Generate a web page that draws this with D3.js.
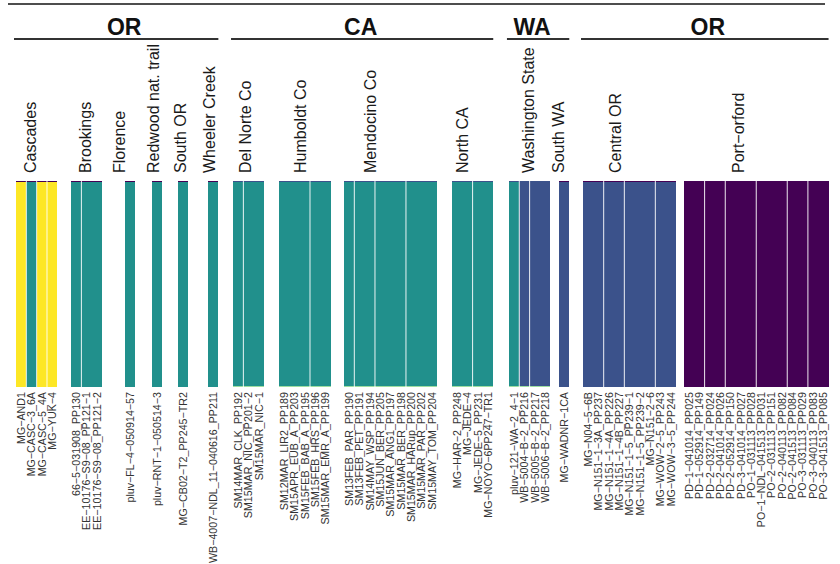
<!DOCTYPE html>
<html><head><meta charset="utf-8">
<script src="https://cdn.jsdelivr.net/npm/d3@7/dist/d3.min.js"></script>
<style>body{margin:0;background:#fff}svg{display:block}</style>
</head><body><svg id="c" width="840" height="564"></svg>
<script>
// ---------------- DATA ----------------
const samples = [
 "MG−AND1","MG−CASC−3_6A","MG−CASC−5_4A","MG−YUK−4",
 "66−5−031908_PP130","EE−10176−S9−08_PP121−1","EE−10176−S9−08_PP121−2",
 "pluv−FL−4−050914−57",
 "pluv−RNT−1−050514−3",
 "MG−CB02−T2_PP245−TR2",
 "WB−4007−NDL_11−040616_PP211",
 "SM14MAR_CLK_PP192","SM15MAR_NIC_PP201−2","SM15MAR_NIC−1",
 "SM12MAR_LIR2_PP189","SM15APR_EUB_A_PP203","SM15FEB_BAB_A_PP195","SM15FEB_HRS_PP196","SM15MAR_EMR_A_PP199",
 "SM13FEB_PAR_PP190","SM13FEB_PET_PP191","SM14MAY_WSP_PP194","SM15JUN_BER_PP205","SM15MAR_ANG1_PP197","SM15MAR_BER_PP198","SM15MAR_HARup_PP200","SM15MAR_PAR_PP202","SM15MAY_TOM_PP204",
 "MG−HAR−2_PP248","MG−JEDE−4","MG−JEDE−5_PP231","MG−NOYO−6PP247−TR1",
 "pluv−121−WA−2_4−1","WB−5004−B−2_PP216","WB−5005−B−2_PP217","WB−5006−B−2_PP218",
 "MG−WADNR−1CA",
 "MG−N04−5−6B","MG−N151−1−3A_PP237","MG−N151−1−4A_PP226","MG−N151−1−4B_PP227","MG−N151−1−5_PP239−1","MG−N151−1−5_PP239−2","MG−N151−2−6","MG−WOW−2−5_PP243","MG−WOW−3−5_PP244",
 "PD−1−041014_PP025","PD−1−052914_PP149","PD−2−032714_PP024","PD−2−041014_PP026","PD−2−052914_PP150","PD−3−041014_PP027","PO−1−031113_PP028","PO−1−NDL−041513_PP031","PO−2−031113_PP151","PO−2−040113_PP082","PO−2−041513_PP084","PO−3−031113_PP029","PO−3−040113_PP083","PO−3−041513_PP085"
];
const groups = ["Cascades","Brookings","Florence","Redwood nat. trail","South OR","Wheeler Creek",
 "Del Norte Co","Humboldt Co","Mendocino Co","North CA",
 "Washington State","South WA",
 "Central OR","Port−orford"];
const groupSizes = [4,3,1,1,1,1, 3,5,9,4, 4,1, 9,14];
const states = ["OR","CA","WA","OR"];
const statesGroupCount = [6,4,2,2];
const clusters = ["K1","K2","K3","K4","K5"];
// membership (ancestry proportion) of each sample in each cluster
const k1 = [0.005,0.005,0.005,0.005, 0.004,0.004,0.004, 0.004, 0.004, 0.004, 0.004,
 0,0,0, 0,0,0,0,0, 0,0,0,0,0,0,0,0,0, 0,0,0,0, 0,0,0,0, 0.003,
 0.003,0.003,0.003,0.003,0.003,0.003,0.003,0.003,0.003,
 1,1,1,1,1,1,1,1,1,1,1,1,1,1];
const k2 = [0,0,0,0, 0,0,0, 0, 0, 0, 0,
 0.005,0.005,0.005, 0.005,0.005,0.005,0.005,0.005, 0.005,0.005,0.005,0.005,0.005,0.005,0.005,0.005,0.005, 0.005,0.005,0.005,0.005,
 0.005,0.997,0.997,0.997, 0.997,
 0.997,0.997,0.997,0.997,0.997,0.997,0.997,0.997,0.997,
 0,0,0,0,0,0,0,0,0,0,0,0,0,0];
const k3 = [0,0.995,0,0, 0.996,0.996,0.996, 0.996, 0.996, 0.996, 0.996,
 0.992,0.992,0.992, 0.992,0.992,0.992,0.992,0.992, 0.992,0.992,0.992,0.992,0.992,0.992,0.992,0.992,0.992, 0.992,0.992,0.992,0.992,
 0.992,0,0,0, 0,
 0,0,0,0,0,0,0,0,0,
 0,0,0,0,0,0,0,0,0,0,0,0,0,0];
const k4 = [0,0,0,0, 0,0,0, 0, 0, 0, 0,
 0.003,0.003,0.003, 0.003,0.003,0.003,0.003,0.003, 0.003,0.003,0.003,0.003,0.003,0.003,0.003,0.003,0.003, 0.003,0.003,0.003,0.003,
 0.003,0.003,0.003,0.003, 0,
 0,0,0,0,0,0,0,0,0,
 0,0,0,0,0,0,0,0,0,0,0,0,0,0];
const k5 = [0.995,0,0.995,0.995, 0,0,0, 0, 0, 0, 0,
 0,0,0, 0,0,0,0,0, 0,0,0,0,0,0,0,0,0, 0,0,0,0,
 0,0,0,0, 0,
 0,0,0,0,0,0,0,0,0,
 0,0,0,0,0,0,0,0,0,0,0,0,0,0];

// ---------------- LAYOUT / STYLE ----------------
const W = 840, H = 564;
const layout = {
  x0: 16, sampleW: 10.33,
  gapUnits: [1.33,2.23,1.61,1.52,1.90,1.42,1.45,1.29,1.45,1.52,0.84,1.33,0.77],
  labelNudge: [-6,-1.5,-11,-4,-3,-4,-3.5,-4.5,-20,-10,-1.5,-5.5,-14.5,-18.5],
  stateNudge: [8,-1.5,-6,3],
  // rendering seams (thin white gaps) visible after these sample indices in the reference
  seamAfter: [0,1,2,4,11,16,19,21,24,29,32,33,38,40,43,47,49,52,55,57],
  barTop: 181, barBottom: 387,
  groupLabelY: 173, sampleLabelY: 392, stateY: 35, ruleY: 39
};
const colors = {K1:"#440154",K2:"#3B528B",K3:"#21908C",K4:"#5DC863",K5:"#FDE725"};
const font = "'Liberation Sans', Arial, Helvetica, sans-serif";

// ---------------- BUILD ----------------
const rows = samples.map((s,i)=>({name:s,K1:k1[i],K2:k2[i],K3:k3[i],K4:k4[i],K5:k5[i]}));
let slot = 0, idx = 0;
const groupInfo = [];
groupSizes.forEach((n,g)=>{
  if(g>0) slot += layout.gapUnits[g-1];
  groupInfo.push({name:groups[g], start:slot, n});
  for(let j=0;j<n;j++){ rows[idx].slot = slot + j; rows[idx].group=g; idx++; }
  slot += n;
});
const totalUnits = slot;
const x = d3.scaleLinear().domain([0,totalUnits]).range([layout.x0, layout.x0 + totalUnits*layout.sampleW]);
const y = d3.scaleLinear().domain([0,1]).range([layout.barBottom, layout.barTop]);

const svg = d3.select("#c");
svg.append("rect").attr("width",W).attr("height",H).attr("fill","#fff");

// stacked bars: bottom->top K5,K4,K3,K2,K1
const stack = d3.stack().keys(["K5","K4","K3","K2","K1"]);
const series = stack(rows);
const gBars = svg.append("g").attr("shape-rendering","crispEdges");
series.forEach(s=>{
  gBars.selectAll(null).data(s.filter(d=>d[1]-d[0]>0)).join("rect")
    .attr("x",d=>x(d.data.slot))
    .attr("width",d=>x(d.data.slot+1)-x(d.data.slot))
    .attr("y",d=>y(d[1]))
    .attr("height",d=>Math.max(0.6,y(d[0])-y(d[1])))
    .attr("fill",colors[s.key])
    .attr("fill-opacity", s.key==="K4" ? 0.6 : 1);
});
// thin white seams between some neighbouring bars
svg.append("g").selectAll("rect").data(layout.seamAfter.map(i=>rows[i])).join("rect")
  .attr("x",d=>x(d.slot+1)-0.5).attr("width",1)
  .attr("y",y(1)).attr("height",y(0)-y(1))
  .attr("fill","#fff").attr("fill-opacity",0.9);

// sample labels
svg.append("g").selectAll("text").data(rows).join("text")
  .attr("transform",d=>`translate(${x(d.slot+0.5)},${layout.sampleLabelY}) rotate(-90)`)
  .attr("text-anchor","end").attr("dy","0.35em")
  .attr("font-family",font).attr("font-size",10.7).attr("fill","#333")
  .text(d=>d.name);

// group labels
svg.append("g").selectAll("text").data(groupInfo).join("text")
  .attr("transform",(d,i)=>`translate(${x(d.start+d.n/2)+layout.labelNudge[i]},${layout.groupLabelY}) rotate(-90)`)
  .attr("text-anchor","start").attr("dy","0.36em")
  .attr("font-family",font).attr("font-size",16).attr("fill","#1a1a1a")
  .text(d=>d.name);

// top rule
svg.append("line").attr("x1",8).attr("x2",825).attr("y1",4).attr("y2",4)
  .attr("stroke","#4d4d4d").attr("stroke-width",2);

// state headers
let gStart = 0;
states.forEach((st,i)=>{
  const first = groupInfo[gStart], last = groupInfo[gStart+statesGroupCount[i]-1];
  const x1 = x(first.start)-2, x2 = x(last.start+last.n);
  svg.append("line").attr("x1",x1).attr("x2",x2).attr("y1",layout.ruleY).attr("y2",layout.ruleY)
    .attr("stroke","#333").attr("stroke-width",2);
  svg.append("text").attr("x",(x1+x2)/2+layout.stateNudge[i]).attr("y",layout.stateY)
    .attr("text-anchor","middle").attr("font-family",font).attr("font-weight","bold")
    .attr("font-size",23).attr("fill","#111").text(st);
  gStart += statesGroupCount[i];
});
</script></body></html>
